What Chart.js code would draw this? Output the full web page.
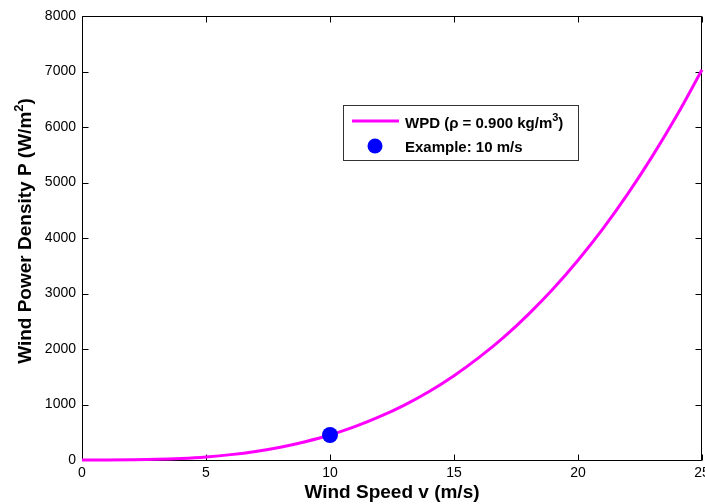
<!DOCTYPE html>
<html>
<head>
<meta charset="utf-8">
<script src="https://cdn.jsdelivr.net/npm/chart.js@4.4.0/dist/chart.umd.min.js"></script>
<style>
  html, body { margin: 0; padding: 0; background: #fff; overflow: hidden; }
  #wrap { position: absolute; left: 0; top: 0; width: 740px; height: 520px; }
</style>
</head>
<body>
<div id="wrap"><canvas id="wpdChart" width="740" height="520"></canvas></div>
<script>
// wind speed (m/s) and wind power density (W/m^2)
var speeds = [0, 1, 2, 3, 4, 5, 6, 7, 8, 9, 10, 11, 12, 13, 14, 15, 16, 17, 18, 19, 20, 21, 22, 23, 24, 25];
var wpd = [0, 0, 4, 12, 29, 56, 97, 154, 230, 330, 450, 600, 780, 990, 1235, 1520, 1845, 2210, 2625, 3085, 3600, 4165, 4790, 5475, 6220, 7030];

// highlighted example point
var exampleSpeed = [10];
var exampleWpd = [450];

var FONT = '"Liberation Sans", Arial, Helvetica, sans-serif';

function toPoints(xs, ys) {
    return xs.map(function(v, i) { return { x: v, y: ys[i] }; });
}

// box round the plot with inward ticks, MATLAB style
var axesBox = {
    id: 'axesBox',
    beforeDatasetsDraw: function(chart) {
        var ctx = chart.ctx, a = chart.chartArea;
        var xs = chart.scales.x, ys = chart.scales.y;
        var L = Math.round(a.left) + 0.5, R = Math.round(a.right) - 0.5;
        var T = Math.round(a.top) + 0.5, B = Math.round(a.bottom) + 0.5;
        ctx.save();
        ctx.strokeStyle = '#000';
        ctx.lineWidth = 1;
        ctx.beginPath();
        ctx.rect(L, T, R - L, B - T);
        xs.ticks.forEach(function(t) {
            var px = Math.round(xs.getPixelForValue(t.value)) + 0.5;
            ctx.moveTo(px, B); ctx.lineTo(px, B - 6);
            ctx.moveTo(px, T); ctx.lineTo(px, T + 6);
        });
        ys.ticks.forEach(function(t) {
            var py = Math.round(ys.getPixelForValue(t.value)) + 0.5;
            ctx.moveTo(L, py); ctx.lineTo(L + 6, py);
            ctx.moveTo(R, py); ctx.lineTo(R - 6, py);
        });
        ctx.stroke();
        ctx.restore();
    },
    afterDraw: function(chart) {
        var ctx = chart.ctx, a = chart.chartArea;
        ctx.save();
        ctx.fillStyle = '#000';
        ctx.textBaseline = 'alphabetic';

        // x title
        ctx.font = 'bold 19px ' + FONT;
        ctx.textAlign = 'center';
        ctx.fillText('Wind Speed v (m/s)', (a.left + a.right) / 2, 498);

        // y title with superscript
        ctx.save();
        ctx.translate(31, 231);
        ctx.rotate(-Math.PI / 2);
        ctx.textAlign = 'left';
        var p1 = 'Wind Power Density P (W/m', p3 = ')';
        ctx.font = 'bold 19px ' + FONT;
        var w1 = ctx.measureText(p1).width, w3 = ctx.measureText(p3).width;
        ctx.font = 'bold 13px ' + FONT;
        var w2 = ctx.measureText('2').width;
        var x0 = -(w1 + w2 + w3) / 2;
        ctx.font = 'bold 19px ' + FONT;
        ctx.fillText(p1, x0, 0);
        ctx.font = 'bold 13px ' + FONT;
        ctx.fillText('2', x0 + w1, -8);
        ctx.font = 'bold 19px ' + FONT;
        ctx.fillText(p3, x0 + w1 + w2, 0);
        ctx.restore();

        // legend
        var lx = 343.5, ly = 105.5, lw = 235, lh = 55;
        ctx.fillStyle = '#fff';
        ctx.fillRect(lx, ly, lw, lh);
        ctx.strokeStyle = '#333';
        ctx.lineWidth = 1;
        ctx.strokeRect(lx, ly, lw, lh);

        var ds0 = chart.data.datasets[0], ds1 = chart.data.datasets[1];
        ctx.strokeStyle = ds0.borderColor;
        ctx.lineWidth = 3;
        ctx.beginPath();
        ctx.moveTo(352, 121); ctx.lineTo(399, 121);
        ctx.stroke();

        ctx.fillStyle = ds1.backgroundColor;
        ctx.beginPath();
        ctx.arc(375, 146, 7.5, 0, Math.PI * 2);
        ctx.fill();

        ctx.fillStyle = '#000';
        ctx.textAlign = 'left';
        ctx.font = 'bold 15px ' + FONT;
        var t1 = 'WPD (\u03c1 = 0.900 kg/m';
        ctx.fillText(t1, 405, 128);
        var tw = ctx.measureText(t1).width;
        ctx.font = 'bold 11px ' + FONT;
        ctx.fillText('3', 405 + tw, 121);
        var sw = ctx.measureText('3').width;
        ctx.font = 'bold 15px ' + FONT;
        ctx.fillText(')', 405 + tw + sw, 128);
        ctx.fillText('Example: 10 m/s', 405, 152);
        ctx.restore();
    }
};

var ctx = document.getElementById('wpdChart').getContext('2d');
new Chart(ctx, {
    type: 'line',
    data: {
        datasets: [{
            label: 'WPD (\u03c1 = 0.900 kg/m\u00b3)',
            data: toPoints(speeds, wpd),
            borderColor: '#ff00ff',
            backgroundColor: '#ff00ff',
            borderWidth: 3,
            pointRadius: 0,
            cubicInterpolationMode: 'monotone',
            clip: false,
            order: 2
        }, {
            label: 'Example: 10 m/s',
            data: toPoints(exampleSpeed, exampleWpd),
            showLine: false,
            borderColor: '#0000ff',
            backgroundColor: '#0000ff',
            pointRadius: 8,
            pointBorderWidth: 0,
            clip: false,
            order: 1
        }]
    },
    options: {
        responsive: false,
        animation: false,
        devicePixelRatio: 1,
        layout: { padding: { top: 16, right: 38, left: 0, bottom: 0 } },
        plugins: {
            legend: { display: false },
            tooltip: { enabled: false }
        },
        scales: {
            x: {
                type: 'linear',
                min: 0, max: 25,
                grid: { display: false, drawTicks: false },
                border: { display: false },
                ticks: {
                    stepSize: 5,
                    padding: 5,
                    maxRotation: 0,
                    color: '#000',
                    font: { family: FONT, size: 14 },
                    callback: function(v) { return String(v); }
                },
                afterFit: function(scale) { scale.height = 60; }
            },
            y: {
                min: 0, max: 8000,
                grid: { display: false, drawTicks: false },
                border: { display: false },
                ticks: {
                    stepSize: 1000,
                    padding: 6,
                    color: '#000',
                    font: { family: FONT, size: 14 },
                    callback: function(v) { return String(v); }
                },
                afterFit: function(scale) { scale.width = 82; }
            }
        }
    },
    plugins: [axesBox]
});
</script>
</body>
</html>
